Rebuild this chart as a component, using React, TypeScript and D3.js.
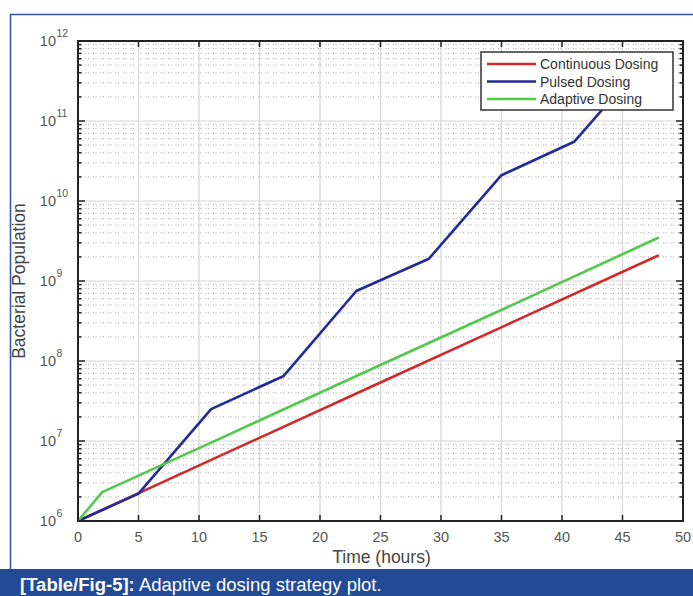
import React from "react";
import * as d3 from "d3";

// ---- data ----
const continuousTime = [0, 12, 24, 36, 48];
const continuousPop = [1e6, 6.8e6, 4.6e7, 3.1e8, 2.1e9];

const pulsedTime = [0, 5, 11, 17, 23, 29, 35, 41, 47, 48];
const pulsedPop = [1e6, 2.2e6, 2.5e7, 6.5e7, 7.5e8, 1.9e9, 2.1e10, 5.5e10, 6e11, 7e11];

const adaptiveTime = [0, 2, 12, 24, 36, 48];
const adaptivePop = [1e6, 2.3e6, 1.12e7, 7.6e7, 5.1e8, 3.5e9];

const seriesNames = ["Continuous Dosing", "Pulsed Dosing", "Adaptive Dosing"];
const seriesColors = ["#d02a2c", "#232a9a", "#52c94c"];

const xTicks = [0, 5, 10, 15, 20, 25, 30, 35, 40, 45, 50];
const yExponents = [6, 7, 8, 9, 10, 11, 12];

const captionLabel = "[Table/Fig-5]:";
const captionText = "Adaptive dosing strategy plot.";

const W = 693;
const H = 596;
const L = 78, R = 683, T = 41, B = 521;

export default function App() {
  const x = d3.scaleLinear().domain([0, 50]).range([L, R]);
  const y = d3.scaleLog().domain([1e6, 1e12]).range([B, T]);

  const minorVals: number[] = [];
  for (let e = 6; e < 12; e++) for (let m = 2; m <= 9; m++) minorVals.push(m * Math.pow(10, e));

  const line = d3
    .line<[number, number]>()
    .x((d) => x(d[0]))
    .y((d) => y(d[1]));

  const series = [
    continuousTime.map((t, i) => [t, continuousPop[i]] as [number, number]),
    pulsedTime.map((t, i) => [t, pulsedPop[i]] as [number, number]),
    adaptiveTime.map((t, i) => [t, adaptivePop[i]] as [number, number]),
  ];

  const font = "'Liberation Sans', Arial, Helvetica, sans-serif";
  const tickColor = "#555";

  const legX = 481, legY = 52, legW = 192, legH = 58;

  return (
    <div style={{ position: "absolute", left: 0, top: 0 }}>
      <svg width={W} height={H} style={{ display: "block", fontFamily: font }}>
        <rect x={0} y={0} width={W} height={H} fill="#fff" />
        {/* frame */}
        <rect x={10.5} y={14.5} width={720} height={560} fill="none" stroke="#2f55a8" strokeWidth={1.5} />
        <defs>
          <clipPath id="plotclip">
            <rect x={L} y={T} width={R - L} height={B - T} />
          </clipPath>
        </defs>
        {/* minor grid */}
        {minorVals.map((v, i) => (
          <line key={"mg" + i} x1={L} x2={R} y1={y(v)} y2={y(v)} stroke="#a0a0a0" strokeWidth={1} strokeDasharray="1,1.5,1,4" />
        ))}
        {/* major grid */}
        {xTicks.slice(1, -1).map((t) => (
          <line key={"gx" + t} x1={x(t)} x2={x(t)} y1={T} y2={B} stroke="#d6d6d6" strokeWidth={1.2} />
        ))}
        {yExponents.slice(1, -1).map((e) => (
          <line key={"gy" + e} x1={L} x2={R} y1={y(Math.pow(10, e))} y2={y(Math.pow(10, e))} stroke="#d6d6d6" strokeWidth={1.2} />
        ))}
        {/* series */}
        <g clipPath="url(#plotclip)">
          {series.map((s, i) => (
            <path key={"s" + i} d={line(s) || ""} fill="none" stroke={seriesColors[i]} strokeWidth={2.6} strokeLinejoin="round" />
          ))}
        </g>
        {/* ticks */}
        {xTicks.map((t) => (
          <g key={"xt" + t}>
            <line x1={x(t)} x2={x(t)} y1={B} y2={B - 6} stroke="#222" strokeWidth={1.5} />
            <line x1={x(t)} x2={x(t)} y1={T} y2={T + 6} stroke="#222" strokeWidth={1.5} />
            <text x={x(t)} y={542} textAnchor="middle" fontSize={14.5} fill={tickColor}>
              {t}
            </text>
          </g>
        ))}
        {minorVals.map((v, i) => (
          <g key={"mt" + i}>
            <line x1={L} x2={L + 3.5} y1={y(v)} y2={y(v)} stroke="#222" strokeWidth={1.5} />
            <line x1={R} x2={R - 3.5} y1={y(v)} y2={y(v)} stroke="#222" strokeWidth={1.5} />
          </g>
        ))}
        {yExponents.map((e) => {
          const yy = y(Math.pow(10, e));
          return (
            <g key={"yt" + e}>
              <line x1={L} x2={L + 7} y1={yy} y2={yy} stroke="#222" strokeWidth={1.5} />
              <line x1={R} x2={R - 7} y1={yy} y2={yy} stroke="#222" strokeWidth={1.5} />
              <text x={56} y={yy + 4.5} textAnchor="end" fontSize={14.5} fill={tickColor}>
                10
              </text>
              <text x={56.5} y={yy - 4} textAnchor="start" fontSize={10.5} fill={tickColor}>
                {e}
              </text>
            </g>
          );
        })}
        {/* axes box */}
        <rect x={L} y={T} width={R - L} height={B - T} fill="none" stroke="#222" strokeWidth={2} />
        {/* legend */}
        <rect x={legX} y={legY} width={legW} height={legH} fill="#fff" stroke="#333" strokeWidth={1.5} />
        {seriesNames.map((n, i) => {
          const ly = legY + 12 + i * 17.5;
          return (
            <g key={"lg" + i}>
              <line x1={legX + 6} x2={legX + 55} y1={ly} y2={ly} stroke={seriesColors[i]} strokeWidth={2.6} />
              <text x={legX + 59} y={ly + 5} fontSize={14} fill="#333">
                {n}
              </text>
            </g>
          );
        })}
        {/* axis labels */}
        <text x={(L + R) / 2 + 1} y={563} textAnchor="middle" fontSize={17.5} fill="#444">
          Time (hours)
        </text>
        <text
          transform={`translate(25,${(T + B) / 2}) rotate(-90)`}
          textAnchor="middle"
          fontSize={17.5}
          fill="#444"
        >
          Bacterial Population
        </text>
        {/* caption */}
        <rect x={0} y={569} width={W} height={H - 569} fill="#234a94" />
        <text x={20} y={591} fontSize={18.5} fill="#fff">
          <tspan fontWeight="bold">{captionLabel}</tspan>
          <tspan> {captionText}</tspan>
        </text>
      </svg>
    </div>
  );
}
